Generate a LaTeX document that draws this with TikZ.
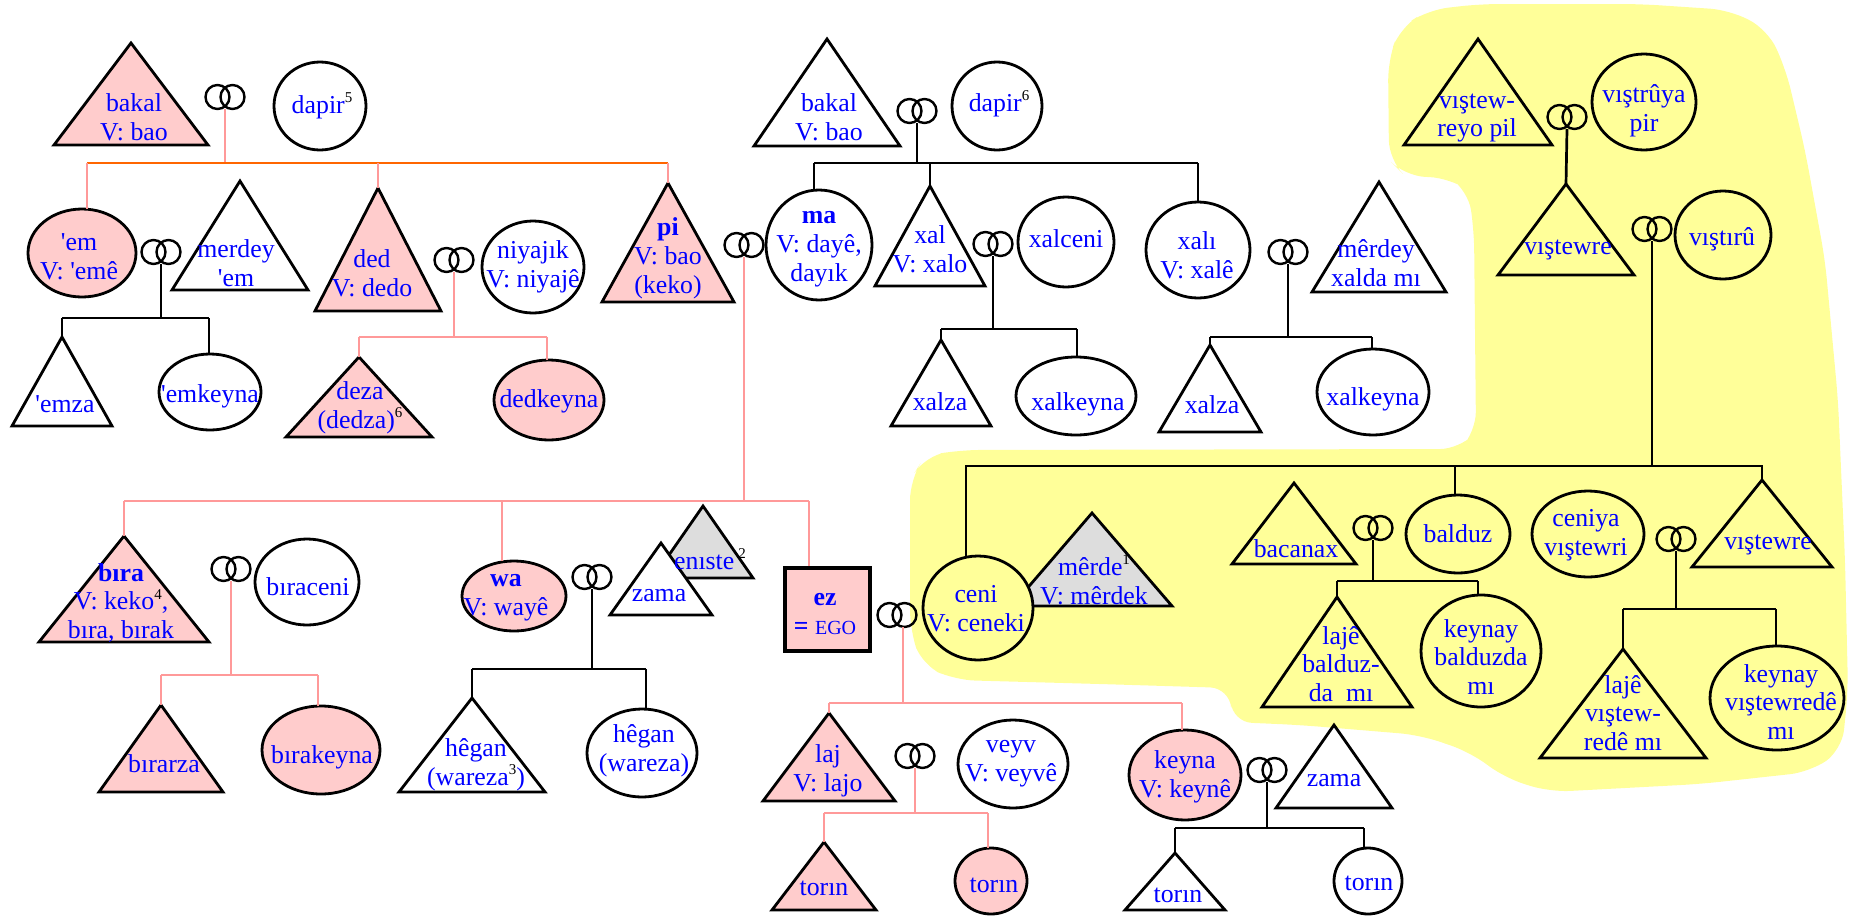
\documentclass[tikz,border=0pt]{standalone}
\usepackage{fontspec}
\setmainfont{Liberation Serif}
\usetikzlibrary{shapes.geometric}
\definecolor{pinkF}{HTML}{FFCCCC}
\definecolor{pinkL}{HTML}{FF9999}
\definecolor{orangeL}{HTML}{FF6600}
\definecolor{grayF}{HTML}{DDDDDD}
\definecolor{yellowBG}{HTML}{FFFF99}
\definecolor{txtblue}{HTML}{0000FF}
\newcommand\fs{\fontsize{12.9}{14.4}\selectfont}
\newcommand\sps[1]{{\color{black}\raisebox{0.42em}{\fontsize{7.5}{8}\selectfont #1}}}
\newcommand\ap{\textquotesingle}
% triangle: name, apex x, apex y, half width, base y, fill
\newcommand\tri[6]{%
  \coordinate (#1) at (#2,#3);
  \draw[tline, fill=#6] (#1) -- ++(-#4,#5-#3) -- ++(2*#4,0) -- cycle;}
% ellipse: name, cx, cy, rx, ry, fill
\newcommand\Ell[6]{\node[ellS, fill=#6, minimum width=#4pt, minimum height=#5pt] (#1) at (#2,#3) {};}
% rings: name (bottom point), cx, cy
\newcommand\rings[3]{%
  \draw[ringl] (#2-7.5,#3) circle[radius=6pt] (#2+7.5,#3) circle[radius=6pt];
  \coordinate (#1) at (#2,#3+12);}
\begin{document}
\begin{tikzpicture}[x=0.5pt,y=-0.5pt,
  tline/.style={draw=black, line width=1.4pt, line join=miter},
  ellS/.style={ellipse, draw=black, line width=1.4pt, inner sep=0pt, outer sep=0pt},
  pkl/.style={draw=pinkL, line width=1pt},
  bkl/.style={draw=black, line width=1.35pt},
  orl/.style={draw=orangeL, line width=1.35pt},
  ringl/.style={draw=black, line width=1.2pt},
  txt/.style={text=txtblue, font=\fs, align=center, inner sep=0pt}]
\useasboundingbox (0,0) rectangle (1852,916);

% ---------- yellow background ----------
\fill[yellowBG, rounded corners=10pt] (1388,60) -- (1400,28) -- (1428,10) -- (1480,4) -- (1640,4) -- (1730,10) -- (1768,30) -- (1786,70) -- (1805,150) -- (1825,260) -- (1838,400) -- (1845,560) -- (1848,690) -- (1842,750) -- (1810,772) -- (1700,784) -- (1550,792) -- (1505,778) -- (1470,752) -- (1420,735) -- (1300,725) -- (1232,722) -- (1230,688) -- (1100,684) -- (955,680) -- (922,665) -- (910,630) -- (910,480) -- (925,456) -- (960,450) -- (1460,449) -- (1476,432) -- (1474,230) -- (1468,190) -- (1450,178) -- (1405,176) -- (1389,160) -- cycle;

% ---------- shapes ----------
\tri{bakalA}{131}{43}{77}{145}{pinkF}
\Ell{dapirA}{320}{106}{46}{44}{white}
\Ell{em}{82}{253}{54}{44}{pinkF}
\tri{merdey}{240}{181}{68}{290}{white}
\tri{ded}{378}{188}{63}{311}{pinkF}
\Ell{niyajik}{533}{267}{51}{46}{white}
\tri{pi}{668}{183}{66}{302}{pinkF}
\tri{emza}{62}{337}{50}{426}{white}
\Ell{emkeyna}{210}{392}{51}{38}{white}
\tri{deza}{359}{357}{73}{437}{pinkF}
\Ell{dedkeyna}{549}{400}{55}{40}{pinkF}

\tri{bakalB}{827}{39}{73}{146}{white}
\Ell{dapirB}{997}{106}{45}{44}{white}
\Ell{ma}{819}{245}{53}{55}{white}
\tri{xal}{930}{186}{55}{286}{white}
\Ell{xalceni}{1066}{242}{48}{45}{white}
\Ell{xali}{1198}{250}{52}{48}{white}
\tri{merdeyx}{1379}{182}{67}{292}{white}
\tri{xalzaA}{941}{340}{50}{426}{white}
\Ell{xalkeynaA}{1076}{396}{60}{39}{white}
\tri{xalzaB}{1210}{345}{51}{432}{white}
\Ell{xalkeynaB}{1373}{392}{56}{43}{white}

\tri{vpil}{1478}{39}{74}{145}{none}
\Ell{vpir}{1644}{102}{52}{48}{none}
\tri{vewreA}{1566}{184}{68}{275}{none}
\Ell{vtiru}{1723}{235}{48}{44}{none}

\tri{bira}{124}{536}{85}{642}{pinkF}
\Ell{biraceni}{307}{582}{52}{43}{white}
\Ell{wa}{514}{596}{52}{35}{pinkF}
\tri{eniste}{703}{506}{50}{578}{grayF}
\tri{zamaA}{661}{543}{51}{615}{white}
\tri{birarza}{161}{705}{62}{792}{pinkF}
\Ell{birakeyna}{321}{750}{59}{44}{pinkF}
\tri{heganA}{472}{698}{73}{792}{white}
\Ell{heganB}{642}{753}{55}{44}{white}

\node[draw=black, line width=2.2pt, fill=pinkF, minimum width=42.5pt, minimum height=41.5pt, inner sep=0pt] (ez) at (827.5,609.5) {};
\tri{merde}{1092}{513}{80}{606}{grayF}
\Ell{ceni}{978}{608}{55}{52}{yellowBG}
\tri{bacanax}{1294}{483}{62}{564}{none}
\Ell{balduz}{1458}{534}{52}{39}{none}
\Ell{ceniya}{1588}{534}{56}{43}{none}
\tri{vewreB}{1762}{480}{70}{567}{none}
\tri{lajeb}{1337}{597}{75}{707}{none}
\Ell{keynayb}{1481}{651}{60}{56}{none}
\tri{lajev}{1623}{649}{83}{758}{none}
\Ell{keynayv}{1777}{698}{67}{52}{none}

\tri{laj}{829}{713}{66}{801}{pinkF}
\Ell{veyv}{1013}{764}{55}{44}{white}
\Ell{keyna}{1185}{775}{56}{45}{pinkF}
\tri{zamaB}{1334}{725}{58}{808}{white}
\tri{torinA}{824}{842}{52}{910}{pinkF}
\Ell{torinB}{991}{881}{36}{33}{pinkF}
\tri{torinC}{1175}{853}{50}{910}{white}
\Ell{torinD}{1368}{881}{34}{33}{white}

% ---------- rings ----------
\rings{rA}{225}{97}
\rings{rB}{161}{252}
\rings{rC}{454}{260}
\rings{rD}{744}{245}
\rings{rE}{917}{111}
\rings{rF}{993}{244}
\rings{rG}{1288}{252}
\rings{rH}{231}{569}
\rings{rI}{592}{577}
\rings{rJ}{897}{615}
\rings{rK}{915}{756}
\rings{rL}{1267}{770}
\rings{rM}{1567}{117}
\rings{rN}{1652}{229}
\rings{rO}{1373}{528}
\rings{rP}{1676}{539}
\coordinate (rJr) at (903,627);

% ---------- connectors ----------
% A: bakal x dapir5
\coordinate (aL) at (87,163); \coordinate (aR) at (668,163);
\draw[pkl] (rA) -- (rA |- aL);
\draw[orl] (aL) -- (aR);
\draw[pkl] (aL) -- (aL |- em.north);
\draw[pkl] (ded |- aL) -- (ded);
\draw[pkl] (aR) -- (pi);
% B: 'em x merdey
\coordinate (bL) at (62,318); \coordinate (bR) at (209,318);
\draw[bkl] (rB) -- (rB |- bL);
\draw[bkl] (bL) -- (bR);
\draw[bkl] (bL) -- (emza);
\draw[bkl] (bR) -- (bR |- emkeyna.north);
% C: ded x niyajik
\coordinate (cL) at (359,337); \coordinate (cR) at (547,337);
\draw[pkl] (rC) -- (rC |- cL);
\draw[pkl] (cL) -- (cR);
\draw[pkl] (cL) -- (deza);
\draw[pkl] (cR) -- (cR |- dedkeyna.north);
% D: pi x ma
\coordinate (dL) at (124,501); \coordinate (dM) at (502,501); \coordinate (dR) at (809,501);
\draw[pkl] (rD) -- (rD |- dL);
\draw[pkl] (dL) -- (dR);
\draw[pkl] (dL) -- (bira);
\draw[pkl] (dM) -- (dM |- wa.north);
\draw[pkl] (dR) -- (dR |- ez.north);
% E: bakal x dapir6
\coordinate (eL) at (814,163); \coordinate (eR) at (1198,163);
\draw[bkl] (rE) -- (rE |- eL);
\draw[bkl] (eL) -- (eR);
\draw[bkl] (eL) -- (eL |- ma.north);
\draw[bkl] (xal |- eL) -- (xal);
\draw[bkl] (eR) -- (eR |- xali.north);
% F: xal x xalceni
\coordinate (fL) at (941,329); \coordinate (fR) at (1077,329);
\draw[bkl] (rF) -- (rF |- fL);
\draw[bkl] (fL) -- (fR);
\draw[bkl] (fL) -- (xalzaA);
\draw[bkl] (fR) -- (fR |- xalkeynaA.north);
% G: xali x merdey xalda
\coordinate (gL) at (1210,337); \coordinate (gR) at (1372,337);
\draw[bkl] (rG) -- (rG |- gL);
\draw[bkl] (gL) -- (gR);
\draw[bkl] (gL) -- (xalzaB);
\draw[bkl] (gR) -- (gR |- xalkeynaB.north);
% H: bira x biraceni
\coordinate (hL) at (161,675); \coordinate (hR) at (318,675);
\draw[pkl] (rH) -- (rH |- hL);
\draw[pkl] (hL) -- (hR);
\draw[pkl] (hL) -- (birarza);
\draw[pkl] (hR) -- (hR |- birakeyna.north);
% I: wa x zama
\coordinate (iL) at (472,669); \coordinate (iR) at (646,669);
\draw[bkl] (rI) -- (rI |- iL);
\draw[bkl] (iL) -- (iR);
\draw[bkl] (iL) -- (heganA);
\draw[bkl] (iR) -- (iR |- heganB.north);
% J: ez x ceni
\coordinate (jL) at (829,703); \coordinate (jR) at (1182,703);
\draw[pkl] (rJr) -- (rJr |- jL);
\draw[pkl] (jL) -- (jR);
\draw[pkl] (jL) -- (laj);
\draw[pkl] (jR) -- (jR |- keyna.north);
% K: laj x veyv
\coordinate (kL) at (824,813); \coordinate (kR) at (988,813);
\draw[pkl] (rK) -- (rK |- kL);
\draw[pkl] (kL) -- (kR);
\draw[pkl] (kL) -- (torinA);
\draw[pkl] (kR) -- (kR |- torinB.north);
% L: keyna x zama
\coordinate (lL) at (1175,828); \coordinate (lR) at (1364,828);
\draw[bkl] (rL) -- (rL |- lL);
\draw[bkl] (lL) -- (lR);
\draw[bkl] (lL) -- (torinC);
\draw[bkl] (lR) -- (lR |- torinD.north);
% M: vistew-reyo pil x vistruya pir
\draw[bkl] (rM) -- (vewreA);
% N: vistewre x vistiru
\coordinate (nL) at (966,466); \coordinate (nB) at (1455,466); \coordinate (nR) at (1762,466);
\draw[bkl] (rN) -- (rN |- nL);
\draw[bkl] (nL |- ceni.north) -- (nL) -- (nR) -- (vewreB);
\draw[bkl] (nB) -- (nB |- balduz.north);
% O: bacanax x balduz
\coordinate (oL) at (1337,581); \coordinate (oR) at (1478,581);
\draw[bkl] (rO) -- (rO |- oL);
\draw[bkl] (oL) -- (oR);
\draw[bkl] (oL) -- (lajeb);
\draw[bkl] (oR) -- (oR |- keynayb.north);
% P: ceniya x vistewre
\coordinate (pL) at (1623,609); \coordinate (pR) at (1776,609);
\draw[bkl] (rP) -- (rP |- pL);
\draw[bkl] (pL) -- (pR);
\draw[bkl] (pL) -- (lajev);
\draw[bkl] (pR) -- (pR |- keynayv.north);

% ---------- texts ----------
\node[txt] (tbakalA) at (134,117) {bakal\\V: bao};
\node[txt] (tdapirA) at (322,106) {dapir\sps{5}};
\node[txt] (tem) at (79,257) {\ap em\\V: \ap em\^e};
\node[txt] (tmerdey) at (236,263) {merdey\\\ap em};
\node[txt] (tded) at (372,273) {ded\\V: dedo};
\node[txt] (tniyajik) at (533,267) {niyajık\\V: niyajê};
\node[txt] (tpi) at (668,258) {\textbf{pi}\\V: bao\\(keko)};
\node[txt] (temza) at (65,404) {\ap emza};
\node[txt] (temkeyna) at (210,396) {\ap emkeyna};
\node[txt] (tdeza) at (360,408) {deza\\(dedza)\sps{6}};
\node[txt] (tdedkeyna) at (549,401) {dedkeyna};

\node[txt] (tbakalB) at (829,117) {bakal\\V: bao};
\node[txt] (tdapirB) at (999,104) {dapir\sps{6}};
\node[txt] (tma) at (819,249) {\textbf{ma}\\V: dayê,\\dayık};
\node[txt] (txal) at (930,249) {xal\\V: xalo};
\node[txt] (txalceni) at (1066,239) {xalceni};
\node[txt] (txali) at (1197,255) {xalı\\V: xalê};
\node[txt] (tmerdeyx) at (1376,263) {mêrdey\\xalda mı};
\node[txt] (txalzaA) at (940,402) {xalza};
\node[txt] (txalkeynaA) at (1078,404) {xalkeyna};
\node[txt] (txalzaB) at (1212,405) {xalza};
\node[txt] (txalkeynaB) at (1373,399) {xalkeyna};

\node[txt] (tvpil) at (1477,118) {vıştew-\\reyo pil};
\node[txt] (tvpir) at (1644,111) {vıştrûya\\pir};
\node[txt] (tvewreA) at (1568,250) {vıştewre};
\node[txt] (tvtiru) at (1722,239) {vıştırû};

\node[txt] (tbira) at (121,603) {\textbf{bıra}\\V: keko\sps{4},\\bıra, bırak};
\node[txt] (tbiraceni) at (308,587) {bıraceni};
\node[txt] (twa) at (506,598) {\textbf{wa}\\V: wayê};
\node[txt] (teniste) at (710,559) {enıste\hspace{2pt}\sps{2}};
\node[txt] (tzamaA) at (659,596) {zama};
\node[txt] (tbirarza) at (164,764) {bırarza};
\node[txt] (tbirakeyna) at (322,757) {bırakeyna};
\node[txt] (theganA) at (476,765) {hêgan\\(wareza\sps{3})};
\node[txt] (theganB) at (644,751) {hêgan\\(wareza)};

\node[txt] (tez) at (825,614) {\textbf{ez}\\\textbf{=} {\fontsize{10}{12}\selectfont EGO}};
\node[txt] (tceni) at (976,609) {ceni\\V: ceneki};
\node[txt] (tmerde) at (1094,580) {mêrde\sps{1}\\V: mêrdek};
\node[txt] (tbacanax) at (1296,549) {bacanax};
\node[txt] (tbalduz) at (1458,534) {balduz};
\node[txt] (tceniya) at (1586,535) {ceniya\\vıştewri};
\node[txt] (tvewreB) at (1768,545) {vıştewre};
\node[txt] (tlajeb) at (1341,664) {lajê\\balduz-\\da~~mı};
\node[txt] (tkeynayb) at (1481,657) {keynay\\balduzda\\mı};
\node[txt] (tlajev) at (1623,713) {lajê\\vıştew-\\redê mı};
\node[txt] (tkeynayv) at (1781,702) {keynay\\vıştewredê\\mı};

\node[txt] (tlaj) at (828,771) {laj\\V: lajo};
\node[txt] (tveyv) at (1011,764) {veyv\\V: veyvê};
\node[txt] (tkeyna) at (1185,777) {keyna\\V: keynê};
\node[txt] (tzamaB) at (1334,781) {zama};
\node[txt] (ttorinA) at (824,888) {torın};
\node[txt] (ttorinB) at (994,885) {torın};
\node[txt] (ttorinC) at (1178,895) {torın};
\node[txt] (ttorinD) at (1369,883) {torın};
\end{tikzpicture}
\end{document}
